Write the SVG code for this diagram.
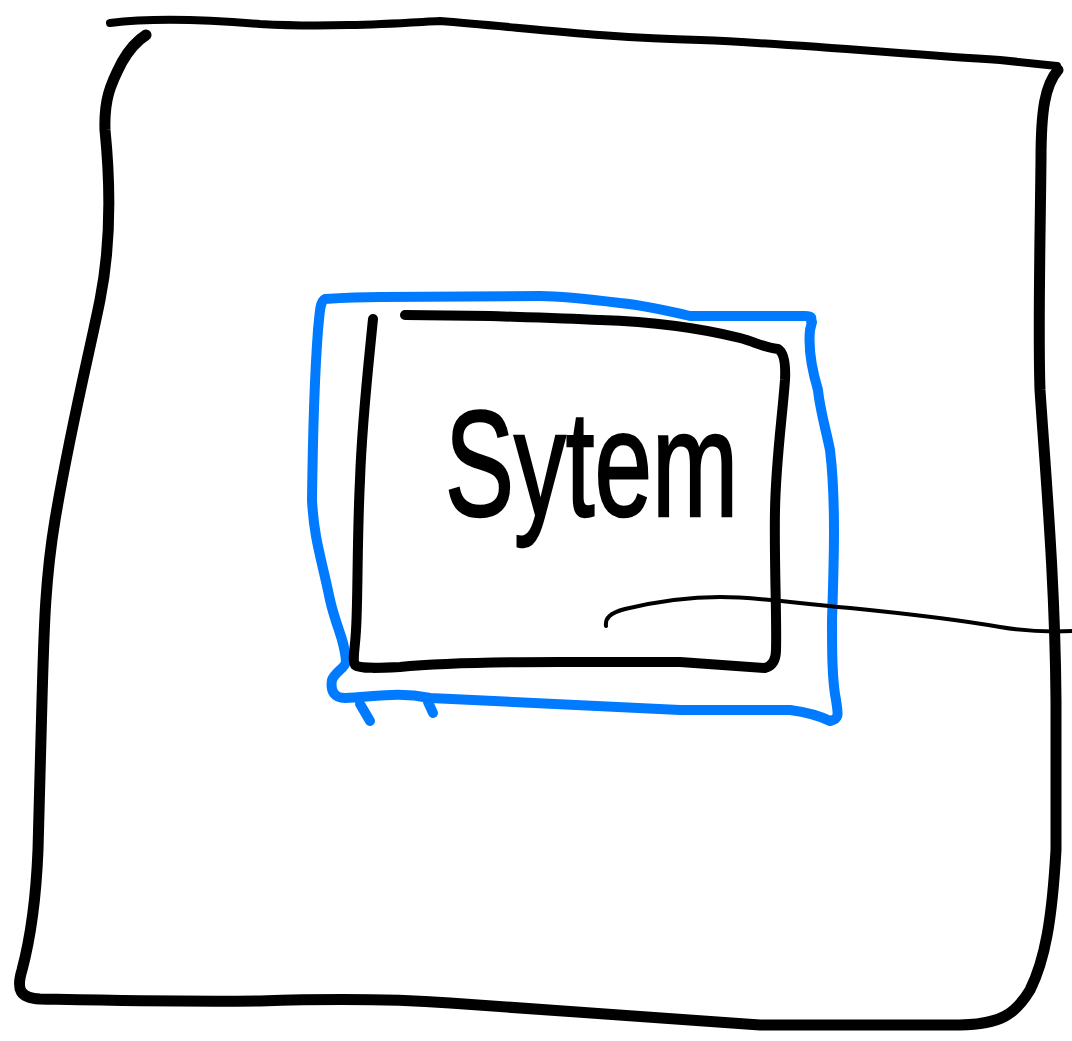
<svg xmlns="http://www.w3.org/2000/svg" width="1072" height="1041" viewBox="0 0 1072 1041">
<style>
.ink{fill:none;stroke:#000;stroke-linecap:round;stroke-linejoin:round}
.blue{fill:none;stroke:#007bff;stroke-width:10;stroke-linecap:round;stroke-linejoin:round}
.lbl{font-family:"Liberation Sans","DejaVu Sans",sans-serif;font-size:150px;fill:#000;stroke:#000;stroke-width:2.5}
</style>
<rect width="1072" height="1041" fill="#fff"/>
<g id="outer-box">
<path class="ink" stroke-width="8" d="M110,23 C150,18 200,19 260,24 C330,28 400,23 440,21 C520,27 600,38 700,40 C800,44 900,54 1000,60 L1057,66"/>
<path class="ink" stroke-width="11" d="M1058,70 C1045,85 1041,110 1041,160 C1040,250 1038,330 1040,390 C1046,480 1055,580 1056,700 L1056,850 C1052,920 1045,960 1030,990 C1015,1015 1000,1024 960,1025 L760,1025 C650,1018 560,1010 450,1003 C380,998 320,999 260,1001 C170,1002 90,1000 40,999 C20,998 16,990 22,970 C30,940 36,900 38,850 L42,700 C44,630 45,580 55,520 C70,430 90,350 100,300 C112,240 110,180 105,130 C104,100 110,85 122,62 C130,48 138,40 146,35"/>
</g>
<g id="system-outer-blue">
<path class="blue" d="M811,321 C812,318 812,316 805,316 L690,316 C665,310 640,305 620,303 C580,298 560,296 540,296 L380,297 C360,297 340,298 325,299 C320,302 320,310 318,330 C315,370 313,420 312,500 C314,540 322,560 330,600 C337,630 345,640 346,662 C345,668 335,672 332,680 C330,692 335,698 345,698 C380,696 400,692 430,698 C520,702 600,706 680,710 L790,710 C805,712 820,716 830,721 C840,719 838,714 836,700 C832,680 832,650 832,620 C834,560 836,500 830,450 C826,430 820,410 818,390 C812,370 808,350 810,330 L812,322"/>
<path class="blue" d="M360,704 L370,721 M428,702 L433,713"/>
</g>
<g id="system">
<path class="ink" stroke-width="10" d="M373,319 C369,360 362,420 360,480 C357,540 358,600 356,630 C355,650 352,660 355,665 C360,669 380,668 400,667 C440,663 520,662 560,662 L680,662 L765,668 C772,666 776,660 776,650 C777,620 774,560 775,510 C776,460 782,420 785,380 C786,360 783,352 778,349 C765,348 755,342 740,338 C700,328 660,322 600,320 C560,318 520,317 490,316 L405,315"/>
<text class="lbl" transform="translate(445,516) scale(0.69,1)" x="0" y="0">Sytem</text>
</g>
<g id="connectors">
<path class="ink" stroke-width="4" d="M606,626 C605,618 610,613 625,609 C650,603 680,597 720,597 C760,597 790,603 850,608 C920,615 960,620 1000,627 C1030,632 1050,632 1072,631"/>
</g>
</svg>
